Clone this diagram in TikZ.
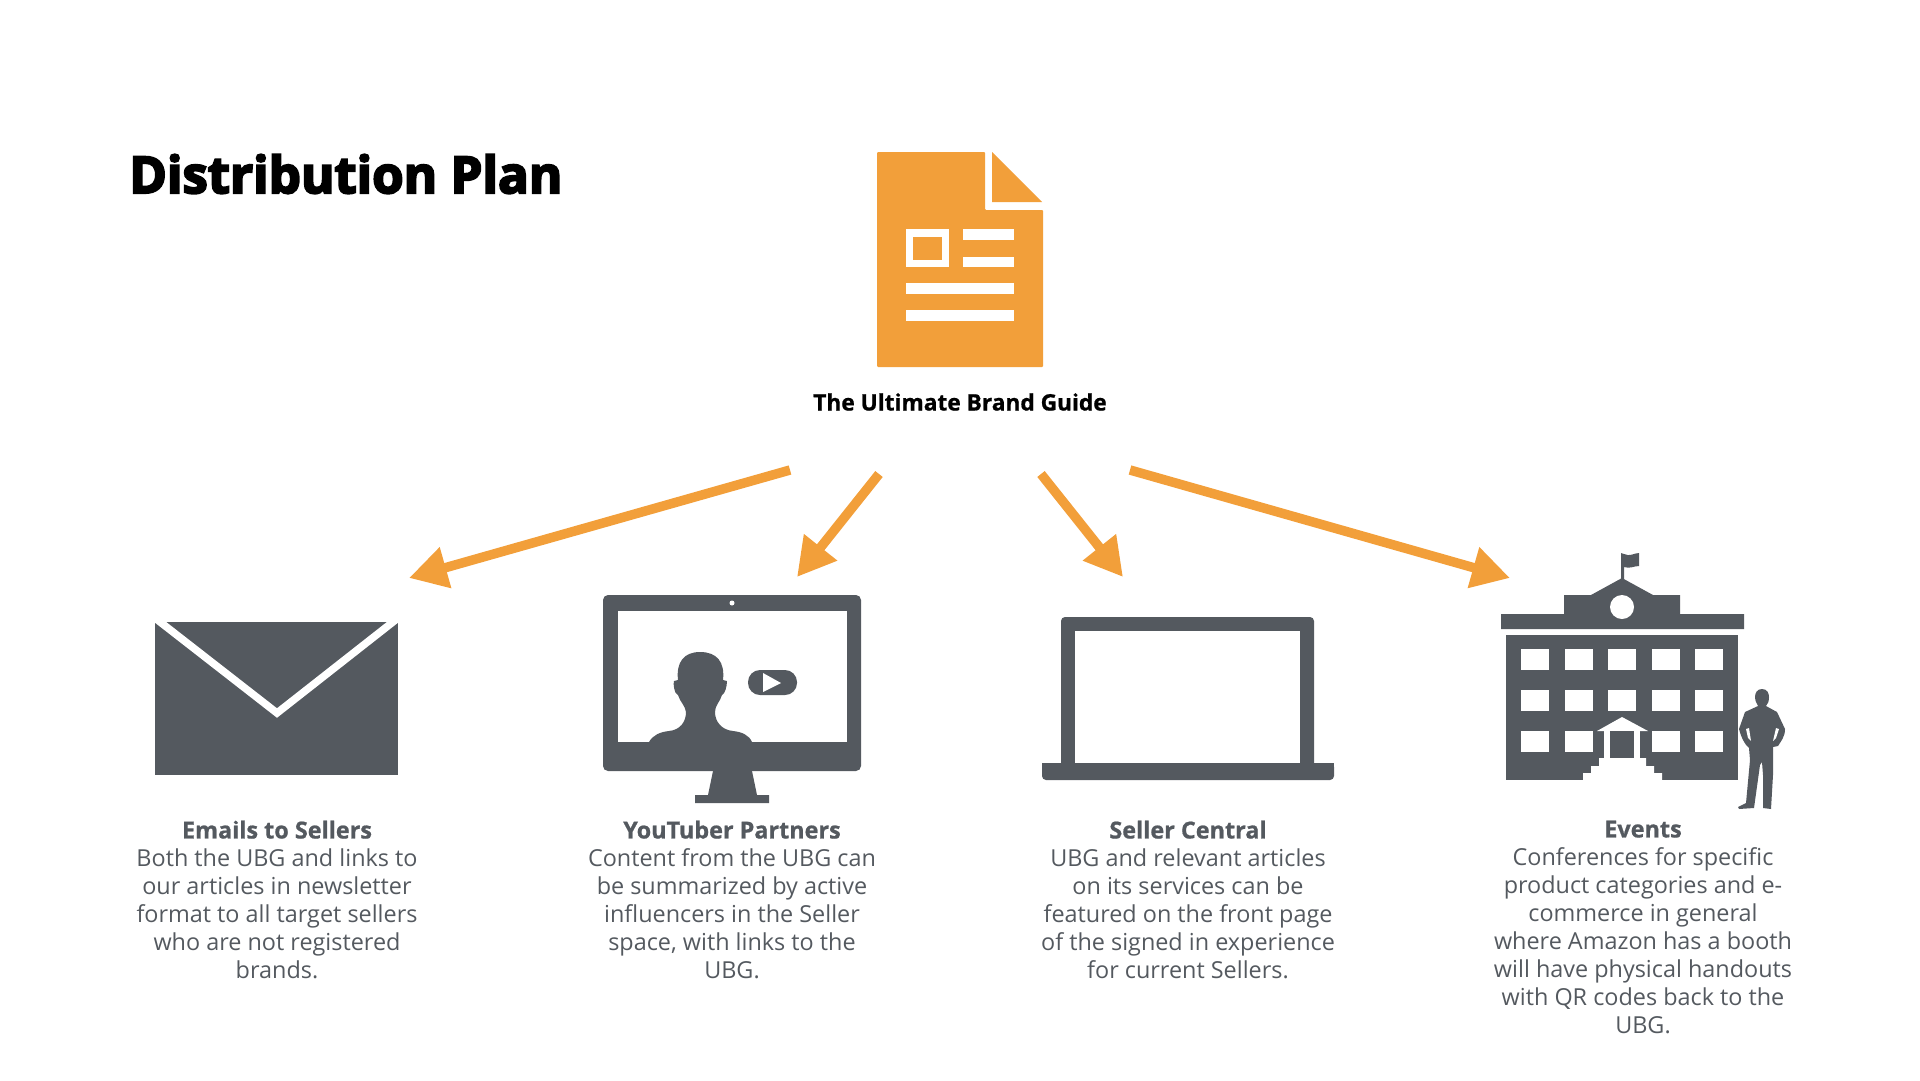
\documentclass[tikz,border=0pt]{standalone}
\usepackage{fontspec}
\setmainfont[BoldFeatures={FakeBold=0.8}]{Open Sans}
\newfontfamily\titlefont[BoldFeatures={FakeBold=4}]{Open Sans}
\usetikzlibrary{arrows.meta}
\definecolor{guideorange}{HTML}{F29F3A}
\definecolor{icongray}{HTML}{54595F}
\tikzset{
  guidearrow/.style={guideorange,line width=9.5pt,-{Triangle[length=38pt,width=40pt]}},
  caption/.style={align=center,text=icongray,anchor=north,font=\fontsize{23.4}{28}\selectfont,inner sep=0pt}
}
\begin{document}
\begin{tikzpicture}[x=1pt,y=-1pt]
\useasboundingbox (0,0) rectangle (1920,1080);
%title
\node (title) [anchor=west,inner sep=0pt,font=\titlefont\bfseries\fontsize{51}{60}\selectfont] at (129,174) {Distribution Plan};
%document
\fill [guideorange,rounded corners=1pt] (877,152)--(985,152)--(985,210)--(1043,210)--(1043,367)--(877,367)--cycle;
\fill [guideorange] (992,152)--(1042,202)--(992,202)--cycle;
\fill [white] (906,229) rectangle (949,267);
\fill [guideorange] (913,237) rectangle (942,260);
\fill [white] (963,229) rectangle (1014,240);
\fill [white] (963,257) rectangle (1014,267);
\fill [white] (906,283) rectangle (1014,294);
\fill [white] (906,310) rectangle (1014,321);
\node (guide) [anchor=center,inner sep=0pt,font=\bfseries\fontsize{22.7}{28}\selectfont] at (960,402) {The Ultimate Brand Guide};
%arrows
\coordinate (a1) at (790,470);
\coordinate (b1) at (409,578);
\coordinate (a2) at (879,474);
\coordinate (b2) at (797,577);
\coordinate (a3) at (1041,474);
\coordinate (b3) at (1123,577);
\coordinate (a4) at (1130,470);
\coordinate (b4) at (1510,578);
\draw [guidearrow] (a1)--(b1);
\draw [guidearrow] (a2)--(b2);
\draw [guidearrow] (a3)--(b3);
\draw [guidearrow] (a4)--(b4);
%envelope
\fill [icongray] (155,622) rectangle (398,775);
\begin{scope}
\clip (150,622) rectangle (403,780);
\draw [white,line width=7.5pt] (155,618)--(277,713)--(398,618);
\end{scope}
%monitor
\fill [icongray,rounded corners=5pt] (603,595) rectangle (861,771);
\fill [white] (618,611) rectangle (847,742);
\fill [white] (732,603) circle (2.5pt);
\fill [icongray] (713,771)--(708,795)--(695,795)--(695,803)--(769,803)--(769,795)--(757,795)--(752,771)--cycle;
%person in monitor
\fill [icongray] (649,742) .. controls (653,735) and (660,732) .. (669,731)
 .. controls (680,730) and (686,722) .. (686,712)
 .. controls (685,705) and (680,702) .. (678,695)
 .. controls (674,694) and (673,683) .. (674,681)
 --(678,680) .. controls (676,662) and (684,652) .. (700,652)
 .. controls (717,652) and (725,662) .. (723,680)
 --(727,681) .. controls (727,686) and (725,694) .. (722,695)
 .. controls (720,702) and (715,705) .. (715,712)
 .. controls (715,722) and (722,730) .. (733,731)
 .. controls (742,732) and (749,735) .. (752,742)--cycle;
\fill [icongray,rounded corners=12pt] (748,670) rectangle (797,695);
\fill [white] (763,673)--(781,683)--(763,692)--cycle;
%laptop
\fill [icongray,rounded corners=4pt] (1061,770)--(1061,617)--(1314,617)--(1314,770)--cycle;
\fill [white] (1075,631) rectangle (1300,763);
\fill [icongray,rounded corners=4pt] (1042,763)--(1334,763)--(1334,780)--(1042,780)--cycle;
\fill [icongray] (1042,763) rectangle (1334,770);
%building
\fill [icongray] (1621,580)--(1621,553)--(1624,554) .. controls (1630,557) and (1634,553) .. (1639,553)
 --(1639,566) .. controls (1634,566) and (1630,569) .. (1624,567)--(1624,580)--cycle;
\fill [icongray] (1622,578)--(1653,595)--(1680,595)--(1680,614)--(1744,614)--(1744,629)--(1501,629)--(1501,614)--(1564,614)--(1564,595)--(1591,595)--cycle;
\fill [white] (1622,607) circle (12pt);
\fill [icongray] (1506,635) rectangle (1738,780);
\foreach \wx in {1521,1565,1608,1652,1695}
  \foreach \wy in {649,690,731}
    \fill [white] (\wx,\wy) rectangle +(28.3,21);
%door
\fill [icongray] (1597,731) rectangle (1648,760);
\fill [white] (1597,731)--(1622,717)--(1648,731)--cycle;
\fill [white] (1604,731) rectangle (1640,758);
\fill [icongray] (1610,731) rectangle (1634,758);
\fill [white] (1599,758)--(1646,758)--(1646,766)--(1654,766)--(1654,773)--(1662,773)--(1662,781)--(1583,781)--(1583,773)--(1591,773)--(1591,766)--(1599,766)--cycle;
%man
\fill [icongray] (1762,689) .. controls (1757,689) and (1755,693) .. (1755,697)
 .. controls (1755,701) and (1757,704) .. (1758,706)
 --(1745,712)--(1739,729) .. controls (1741,737) and (1745,745) .. (1749,748)
 --(1750,760)--(1746,803)--(1738,807)--(1739,809)--(1754,808)--(1760,765)--(1762,762)--(1763,775)--(1763,808)--(1771,809)--(1773,775)
 --(1773,747)--(1778,746) .. controls (1781,741) and (1785,737) .. (1785,729)
 --(1777,712)--(1766,706) .. controls (1768,704) and (1769,701) .. (1769,697)
 .. controls (1769,693) and (1767,689) .. (1762,689)--cycle;
\fill [white] (1746,729)--(1749,728)--(1751,741)--(1748,738)--cycle;
\fill [white] (1779,729)--(1776,728)--(1773,741)--(1776,738)--cycle;
%captions
\node (mailtext) [caption] at (277,820.5) {\textbf{Emails to Sellers}\\Both the UBG and links to\\our articles in newsletter\\format to all target sellers\\who are not registered\\brands.};
\node (tubetext) [caption] at (732,820.5) {\textbf{YouTuber Partners}\\Content from the UBG can\\be summarized by active\\influencers in the Seller\\space, with links to the\\UBG.};
\node (centraltext) [caption] at (1188,820.5) {\textbf{Seller Central}\\UBG and relevant articles\\on its services can be\\featured on the front page\\of the signed in experience\\for current Sellers.};
\node (eventtext) [caption] at (1643,820.5) {\textbf{Events}\\Conferences for specific\\product categories and e-\\commerce in general\\where Amazon has a booth\\will have physical handouts\\with QR codes back to the\\UBG.};
\end{tikzpicture}
\end{document}
